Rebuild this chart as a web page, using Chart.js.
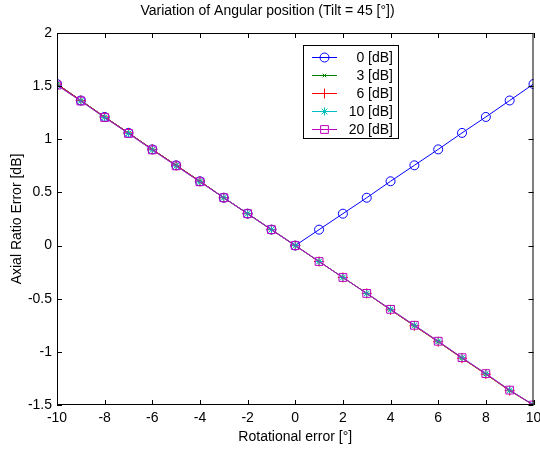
<!DOCTYPE html>
<html><head><meta charset="utf-8">
<script src="https://cdn.jsdelivr.net/npm/chart.js@4"></script>
<style>html,body{margin:0;padding:0;background:#fff}#wrap{width:540px;height:449px}</style>
</head><body><div id="wrap"><canvas id="c" width="540" height="449"></canvas></div>
<script>
const xValues = [-10,-9,-8,-7,-6,-5,-4,-3,-2,-1,0,1,2,3,4,5,6,7,8,9,10];
const s0dB  = [1.52,1.365,1.21,1.06,0.905,0.755,0.605,0.45,0.30,0.15,0,0.15,0.30,0.45,0.605,0.755,0.905,1.06,1.21,1.365,1.52];
const s3dB  = [1.52,1.365,1.21,1.06,0.905,0.755,0.605,0.45,0.30,0.15,0,-0.15,-0.30,-0.45,-0.605,-0.755,-0.905,-1.06,-1.21,-1.365,-1.50];
const s6dB  = [1.52,1.365,1.21,1.06,0.905,0.755,0.605,0.45,0.30,0.15,0,-0.15,-0.30,-0.45,-0.605,-0.755,-0.905,-1.06,-1.21,-1.365,-1.50];
const s10dB = [1.51,1.36,1.205,1.055,0.90,0.75,0.60,0.45,0.30,0.15,0,-0.15,-0.30,-0.45,-0.60,-0.75,-0.90,-1.055,-1.205,-1.36,-1.50];
const s20dB = [1.51,1.36,1.205,1.055,0.90,0.75,0.60,0.45,0.30,0.15,0,-0.15,-0.30,-0.45,-0.60,-0.75,-0.90,-1.055,-1.205,-1.36,-1.50];
const seriesLabels = ['0 [dB]','3 [dB]','6 [dB]','10 [dB]','20 [dB]'];
const xTicks = [-10,-8,-6,-4,-2,0,2,4,6,8,10];
const yTicks = [-1.5,-1,-0.5,0,0.5,1,1.5,2];

const FONT = 'Liberation Sans, Arial, sans-serif';
const FS = 14;
const styles = [
  {c:'#0000ff', p:'circle', r:4.5},
  {c:'#008000', p:'crossRot', r:2.5},
  {c:'#ff0000', p:'cross', r:5},
  {c:'#00bfbf', p:'star', r:4},
  {c:'#bf00bf', p:'rect', r:5.5}
];
const allSeries = [s0dB,s3dB,s6dB,s10dB,s20dB];
const datasets = allSeries.map((s,i)=>({
  label: seriesLabels[i],
  order: allSeries.length - i,
  data: s.map((v,j)=>({x:xValues[j], y:v})),
  borderColor: styles[i].c, backgroundColor: 'rgba(0,0,0,0)',
  pointBorderColor: styles[i].c, pointBackgroundColor:'rgba(0,0,0,0)',
  pointStyle: styles[i].p, pointRadius: styles[i].r, pointHoverRadius: styles[i].r,
  pointBorderWidth: 1, borderWidth: 1, tension: 0, fill:false
}));

const frame = {
  id:'frame',
  afterDraw(chart){
    const {ctx, chartArea:a, scales} = chart;
    ctx.save();
    ctx.strokeStyle='#000'; ctx.lineWidth=1;
    ctx.strokeRect(a.left+0.5, a.top+0.5, a.right-a.left-1, a.bottom-a.top-1);
    ctx.beginPath();
    const tl=5;
    xTicks.forEach(v=>{ const x=Math.round(scales.x.getPixelForValue(v))+0.5;
      ctx.moveTo(x,a.bottom); ctx.lineTo(x,a.bottom-tl);
      ctx.moveTo(x,a.top); ctx.lineTo(x,a.top+tl); });
    yTicks.forEach(v=>{ const y=Math.round(scales.y.getPixelForValue(v))+0.5;
      ctx.moveTo(a.left,y); ctx.lineTo(a.left+tl,y);
      ctx.moveTo(a.right,y); ctx.lineTo(a.right-tl,y); });
    ctx.stroke();
    // legend
    const L=303, T=45, W=95, H=93;
    ctx.fillStyle='#fff'; ctx.fillRect(L,T,W,H);
    ctx.strokeStyle='#000';
    ctx.strokeRect(L+0.5,T+0.5,W,H);
    ctx.font=FS+'px '+FONT; ctx.textAlign='right'; ctx.textBaseline='middle';
    chart.data.datasets.forEach((d,i)=>{
      const y = Math.round(T+11.5+i*18.2)+0.5;
      ctx.strokeStyle=d.borderColor; ctx.lineWidth=1;
      ctx.beginPath(); ctx.moveTo(312,y); ctx.lineTo(337,y); ctx.stroke();
      ctx.fillStyle='rgba(0,0,0,0)';
      Chart.helpers.drawPoint(ctx,{pointStyle:d.pointStyle, radius:d.pointRadius, rotation:0, borderWidth:1}, 324.5, y);
      ctx.fillStyle='#000'; ctx.fillText(d.label, 393, y+0.5);
    });
    ctx.restore();
  }
};

new Chart(document.getElementById('c'), {
  type:'line',
  data:{datasets},
  options:{
    responsive:false, animation:false,
    layout:{padding:{left:0,right:5,top:0,bottom:0}},
    plugins:{
      legend:{display:false}, tooltip:{enabled:false},
      title:{display:true, text:'Variation of Angular position (Tilt = 45 [°])', color:'#000', font:{family:FONT,size:FS,weight:'normal'}, padding:{top:3,bottom:13.2}}
    },
    scales:{
      x:{type:'linear', min:-10, max:10, afterBuildTicks(s){s.ticks=xTicks.map(v=>({value:v}));},
        afterFit(s){s.paddingRight=0; s.height=44;},
        grid:{display:false, drawTicks:false}, border:{display:false},
        ticks:{color:'#000', font:{family:FONT,size:FS}, padding:5, maxRotation:0, callback:v=>String(v)},
        title:{display:true, text:'Rotational error [°]', color:'#000', font:{family:FONT,size:FS}, padding:{top:3,bottom:3}}},
      y:{type:'linear', min:-1.5, max:2, afterBuildTicks(s){s.ticks=yTicks.map(v=>({value:v}));},
        afterFit(s){s.width=57;},
        grid:{display:false, drawTicks:false}, border:{display:false},
        ticks:{color:'#000', font:{family:FONT,size:FS}, padding:5, callback:v=>String(v)},
        title:{display:true, text:'Axial Ratio Error [dB]', color:'#000', font:{family:FONT,size:FS}, padding:{top:9,bottom:0}}}
    }
  },
  plugins:[frame]
});
</script></body></html>
